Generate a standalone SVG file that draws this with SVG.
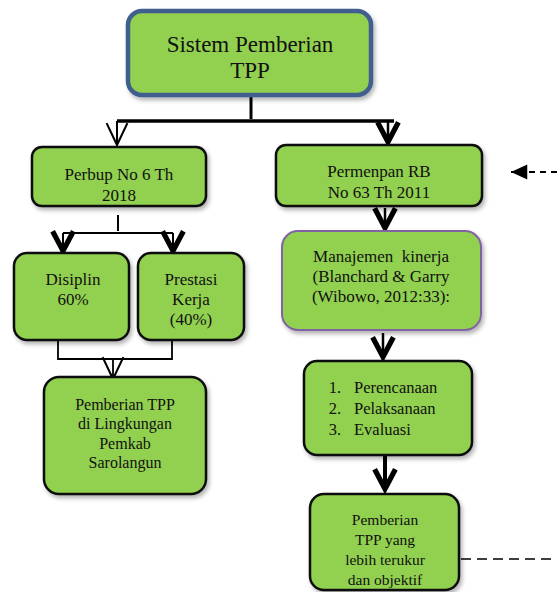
<svg xmlns="http://www.w3.org/2000/svg" width="557" height="592" viewBox="0 0 557 592">
<style>
.box{fill:#92d050;stroke:#111;stroke-width:2.5;filter:url(#sh)}
.t{font-family:'Liberation Serif','DejaVu Serif','Noto Serif',serif;fill:#111;text-anchor:middle}
.s{text-anchor:start}
.ln{fill:none;stroke:#000}
</style>
<defs>
<filter id="sh" x="-10%" y="-10%" width="130%" height="130%">
<feDropShadow dx="2" dy="3" stdDeviation="2" flood-color="#000" flood-opacity="0.3"/>
</filter>
<marker id="vthin" markerUnits="userSpaceOnUse" orient="auto" refX="0" refY="0" markerWidth="30" markerHeight="30" viewBox="-22 -13 26 26" overflow="visible">
<path d="M-19,-9 L0,0 L-19,9" fill="none" stroke="#000" stroke-width="1.8"/>
</marker>
<marker id="vthick" markerUnits="userSpaceOnUse" orient="auto" refX="0" refY="0" markerWidth="30" markerHeight="30" viewBox="-22 -13 26 26" overflow="visible">
<path d="M-18,-9 L-1,0 L-18,9" fill="none" stroke="#000" stroke-width="4.5"/>
</marker>
<marker id="tri" markerUnits="userSpaceOnUse" orient="auto" refX="0" refY="0" markerWidth="20" markerHeight="20" viewBox="-14 -7 16 14" overflow="visible">
<path d="M-13,-6 L0,0 L-13,6 Z" fill="#000"/>
</marker>
</defs>

<g id="connectors">
<path class="ln" d="M251,96 V119" stroke-width="3"/>
<path class="ln" d="M117,121 H394" stroke-width="3.5"/>
<path class="ln" d="M117,121 V145" stroke-width="2" marker-end="url(#vthin)"/>
<path class="ln" d="M388,121 V143" stroke-width="2.5" marker-end="url(#vthick)"/>
<path class="ln" d="M557,172 H511" stroke-width="2" stroke-dasharray="6,5" marker-end="url(#tri)"/>
<path class="ln" d="M118,215 V231" stroke-width="2"/>
<path class="ln" d="M63,233 H173" stroke-width="2"/>
<path class="ln" d="M63,233 V252" stroke-width="2" marker-end="url(#vthick)"/>
<path class="ln" d="M173,233 V252" stroke-width="2" marker-end="url(#vthick)"/>
<path class="ln" d="M58,341 V359 H172 V341" stroke-width="1.8"/>
<path class="ln" d="M113,359 V379" stroke-width="1.8" marker-end="url(#vthin)"/>
<path class="ln" d="M385,208 V229" stroke-width="2.5" marker-end="url(#vthick)"/>
<path class="ln" d="M383,333 V358" stroke-width="2.5" marker-end="url(#vthick)"/>
<path class="ln" d="M385,456 V490" stroke-width="4" marker-end="url(#vthick)"/>
<path class="ln" d="M461,559 H557" stroke-width="1.5" stroke-dasharray="10,6"/>
</g>

<g id="title">
<rect x="128" y="11" width="243" height="84" rx="14" fill="#92d050" stroke="#3f5f8f" stroke-width="4.5" filter="url(#sh)"/>
<text class="t" x="250" y="52" font-size="23">Sistem Pemberian</text>
<text class="t" x="250" y="78" font-size="23">TPP</text>
</g>

<g id="perbup">
<rect class="box" x="32" y="147" width="174" height="59" rx="10"/>
<text class="t" x="119" y="180" font-size="17">Perbup No 6 Th</text>
<text class="t" x="119" y="201" font-size="17">2018</text>
</g>

<g id="permenpan">
<rect class="box" x="276" y="145" width="206" height="61" rx="10"/>
<text class="t" x="379" y="177" font-size="17">Permenpan RB</text>
<text class="t" x="379" y="198" font-size="17">No 63 Th 2011</text>
</g>

<g id="disiplin">
<rect class="box" x="14" y="253" width="115" height="87" rx="13"/>
<text class="t" x="73" y="285" font-size="17">Disiplin</text>
<text class="t" x="73" y="305" font-size="17">60%</text>
</g>

<g id="prestasi">
<rect class="box" x="138" y="253" width="106" height="87" rx="13"/>
<text class="t" x="191" y="285" font-size="17">Prestasi</text>
<text class="t" x="191" y="305" font-size="17">Kerja</text>
<text class="t" x="191" y="325" font-size="17">(40%)</text>
</g>

<g id="pemberian-left">
<rect class="box" x="44" y="377" width="162" height="117" rx="15"/>
<text class="t" x="125" y="410" font-size="16">Pemberian TPP</text>
<text class="t" x="125" y="429" font-size="16">di Lingkungan</text>
<text class="t" x="125" y="449" font-size="16">Pemkab</text>
<text class="t" x="125" y="468" font-size="16">Sarolangun</text>
</g>

<g id="manajemen">
<rect x="282" y="231" width="199" height="99" rx="16" fill="#92d050" stroke="#8064a2" stroke-width="2" filter="url(#sh)"/>
<text class="t" x="381" y="262" font-size="17" xml:space="preserve">Manajemen  kinerja</text>
<text class="t" x="381" y="282" font-size="17">(Blanchard &amp; Garry</text>
<text class="t" x="381" y="302" font-size="17">(Wibowo, 2012:33):</text>
</g>

<g id="tahapan">
<rect class="box" x="304" y="361" width="168" height="94" rx="13"/>
<text class="t" x="335" y="393" font-size="16.5">1.</text>
<text class="t" x="335" y="414" font-size="16.5">2.</text>
<text class="t" x="335" y="435" font-size="16.5">3.</text>
<text class="t s" x="354" y="393" font-size="16.5">Perencanaan</text>
<text class="t s" x="354" y="414" font-size="16.5">Pelaksanaan</text>
<text class="t s" x="354" y="435" font-size="16.5">Evaluasi</text>
</g>

<g id="pemberian-right">
<rect class="box" x="310" y="494" width="149" height="96" rx="14"/>
<text class="t" x="385" y="525" font-size="15.5">Pemberian</text>
<text class="t" x="385" y="545" font-size="15.5">TPP yang</text>
<text class="t" x="385" y="565" font-size="15.5">lebih terukur</text>
<text class="t" x="385" y="585" font-size="15.5">dan objektif</text>
</g>
</svg>
